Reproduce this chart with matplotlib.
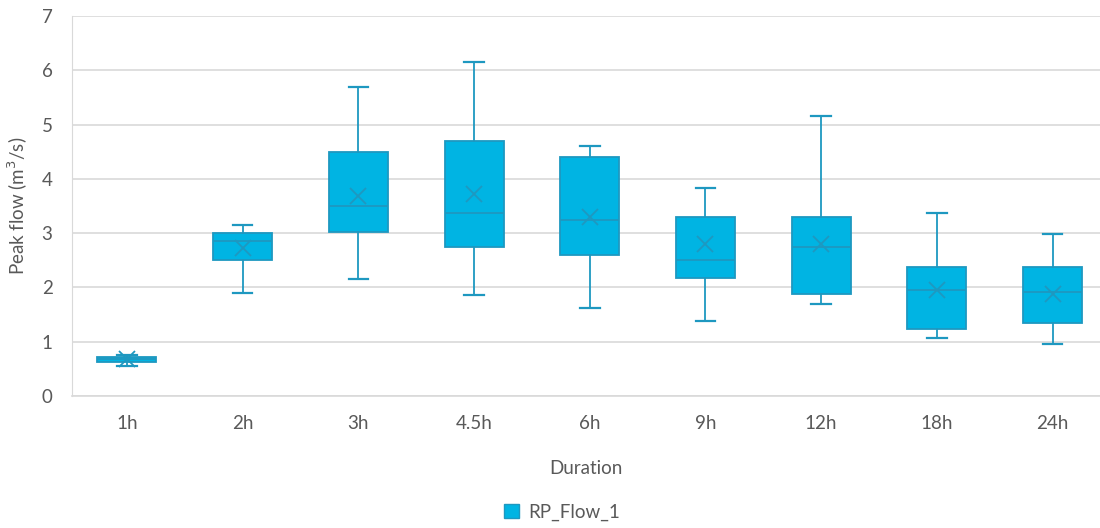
import matplotlib
matplotlib.use("Agg")
import matplotlib.pyplot as plt
from matplotlib.patches import Patch

durations = ["1h", "2h", "3h", "4.5h", "6h", "9h", "12h", "18h", "24h"]
whisker_low = [0.55, 1.90, 2.15, 1.86, 1.63, 1.38, 1.70, 1.06, 0.95]
q1 = [0.62, 2.50, 3.02, 2.75, 2.60, 2.18, 1.87, 1.23, 1.35]
median = [0.68, 2.85, 3.50, 3.38, 3.25, 2.50, 2.75, 1.95, 1.92]
q3 = [0.72, 3.00, 4.50, 4.70, 4.40, 3.30, 3.30, 2.38, 2.38]
whisker_high = [0.76, 3.15, 5.70, 6.15, 4.60, 3.83, 5.15, 3.38, 2.98]
mean = [0.68, 2.72, 3.68, 3.72, 3.30, 2.80, 2.80, 1.95, 1.88]

fill = "#00B4E3"
edge = "#1E98C0"
text_col = "#595959"
grid_col = "#D9D9D9"

plt.rcParams["font.family"] = ["Lato", "DejaVu Sans"]

fig = plt.figure(figsize=(11, 5.28), dpi=100)
ax = fig.add_axes([72 / 1100, 1 - 396 / 528, (1100 - 72) / 1100, (396 - 16) / 528])

stats = []
for i, name in enumerate(durations):
    stats.append(dict(label=name, whislo=whisker_low[i], q1=q1[i], med=median[i],
                      q3=q3[i], whishi=whisker_high[i], mean=mean[i], fliers=[]))

pos = list(range(len(durations)))
ax.bxp(stats, positions=pos, widths=0.51, capwidths=0.17, patch_artist=True,
       showmeans=True, showfliers=False,
       boxprops=dict(facecolor=fill, edgecolor=edge, linewidth=1.3),
       medianprops=dict(color=edge, linewidth=1.3),
       whiskerprops=dict(color=edge, linewidth=1.3),
       capprops=dict(color=edge, linewidth=1.6),
       meanprops=dict(marker="x", markersize=11, markeredgecolor=edge,
                      markeredgewidth=1.3, linestyle="none"))

ax.set_xlim(-0.475, 8.41)
ax.set_ylim(0, 7)
ax.set_yticks(range(0, 8))
ax.set_xticks(pos)
ax.set_xticklabels(durations)
ax.yaxis.grid(True, color=grid_col, linewidth=1.2)
ax.set_axisbelow(True)
for s in ["top", "right"]:
    ax.spines[s].set_visible(False)
ax.spines["left"].set_color(grid_col)
ax.spines["bottom"].set_color(grid_col)
ax.spines["bottom"].set_linewidth(1.2)
ax.tick_params(axis="both", length=0, colors=text_col, labelsize=13.5)
ax.tick_params(axis="y", pad=14)
ax.tick_params(axis="x", pad=14)

ax.set_ylabel("Peak flow (m$^3$/s)", color=text_col, fontsize=13.5, labelpad=8)
ax.set_xlabel("Duration", color=text_col, fontsize=13.5, labelpad=20)

fig.legend(handles=[Patch(facecolor=fill, edgecolor=edge, label="RP_Flow_1")],
           loc="center", bbox_to_anchor=(562 / 1100, 1 - 512 / 528), frameon=False,
           fontsize=13.5, labelcolor=text_col, handlelength=0.8, handleheight=0.8,
           handletextpad=0.5)

fig.savefig("out.png", dpi=100)
